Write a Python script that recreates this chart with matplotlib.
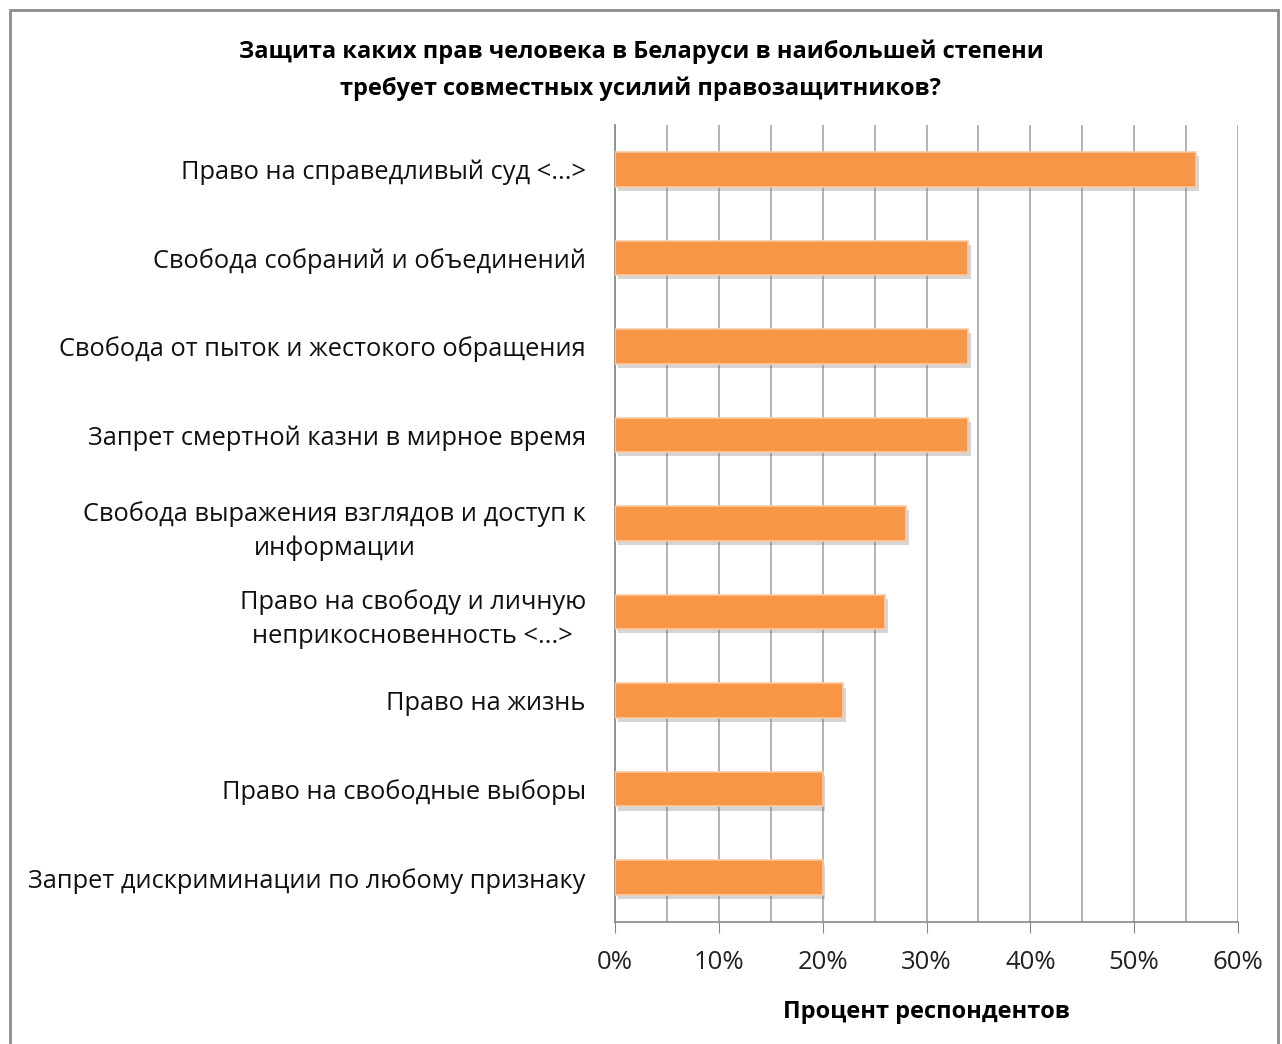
import numpy as np
import matplotlib
matplotlib.use('Agg')
from matplotlib import pyplot as plt
from matplotlib import patheffects as pe
from matplotlib.patches import Rectangle

labels = ['Право на справедливый суд <...>',
          'Свобода собраний и объединений',
          'Свобода от пыток и жестокого обращения',
          'Запрет смертной казни в мирное время',
          'Свобода выражения взглядов и доступ к\nинформации',
          'Право на свободу и личную\nнеприкосновенность <...>',
          'Право на жизнь',
          'Право на свободные выборы',
          'Запрет дискриминации по любому признаку']
values = [56, 34, 34, 34, 28, 26, 22, 20, 20]
xticks = [0, 10, 20, 30, 40, 50, 60]

plt.rcParams['font.family'] = ['Open Sans', 'DejaVu Sans']

fig = plt.figure(figsize=(12.82, 10.44), dpi=100)
ax = fig.add_axes([615/1282, 1 - 922/1044, 623/1282, 797/1044])

y = np.arange(len(labels))
bars = ax.barh(y, values, height=0.39, color='#F79646', edgecolor='#FBC9A3',
               linewidth=1.2, zorder=3)
for b in bars:
    b.set_path_effects([pe.SimplePatchShadow(offset=(2, -3), shadow_rgbFace='#777777', alpha=0.3),
                        pe.Normal()])

ax.set_ylim(len(labels) - 0.5, -0.5)
ax.set_xlim(0, 60)
ax.set_xticks(xticks)
ax.set_xticklabels([f'{t}%' for t in xticks], fontsize=18.5, color='#222222')
ax.set_xticks(np.arange(0, 61, 5), minor=True)
ax.grid(axis='x', which='both', color='#A6A6A6', linewidth=1.2, zorder=0)
ax.set_yticks(y)
ax.set_yticklabels(labels, fontsize=18.3, color='#111111', ha='right',
                   multialignment='center', linespacing=1.45)
ax.tick_params(axis='y', length=0, pad=21)
ax.tick_params(axis='x', which='major', length=8, color='#888888', pad=12)
ax.tick_params(axis='x', which='minor', length=0)
for s in ['top', 'right']:
    ax.spines[s].set_visible(False)
for s in ['left', 'bottom']:
    ax.spines[s].set_color('#888888')
    ax.spines[s].set_linewidth(1.2)

ax.set_xlabel('Процент респондентов', fontsize=17, fontweight='bold', labelpad=18)
fig.text(0.5, 1 - 70/1044,
         'Защита каких прав человека в Беларуси в наибольшей степени\nтребует совместных усилий правозащитников?',
         ha='center', va='center', fontsize=17, fontweight='bold', linespacing=1.65)

fig.patches.append(Rectangle((10/1282, -0.05), 1268/1282, 1.05 - 10/1044,
                             transform=fig.transFigure, fill=False,
                             edgecolor='#8C8C8C', linewidth=2))

fig.savefig('out.png', dpi=100)
